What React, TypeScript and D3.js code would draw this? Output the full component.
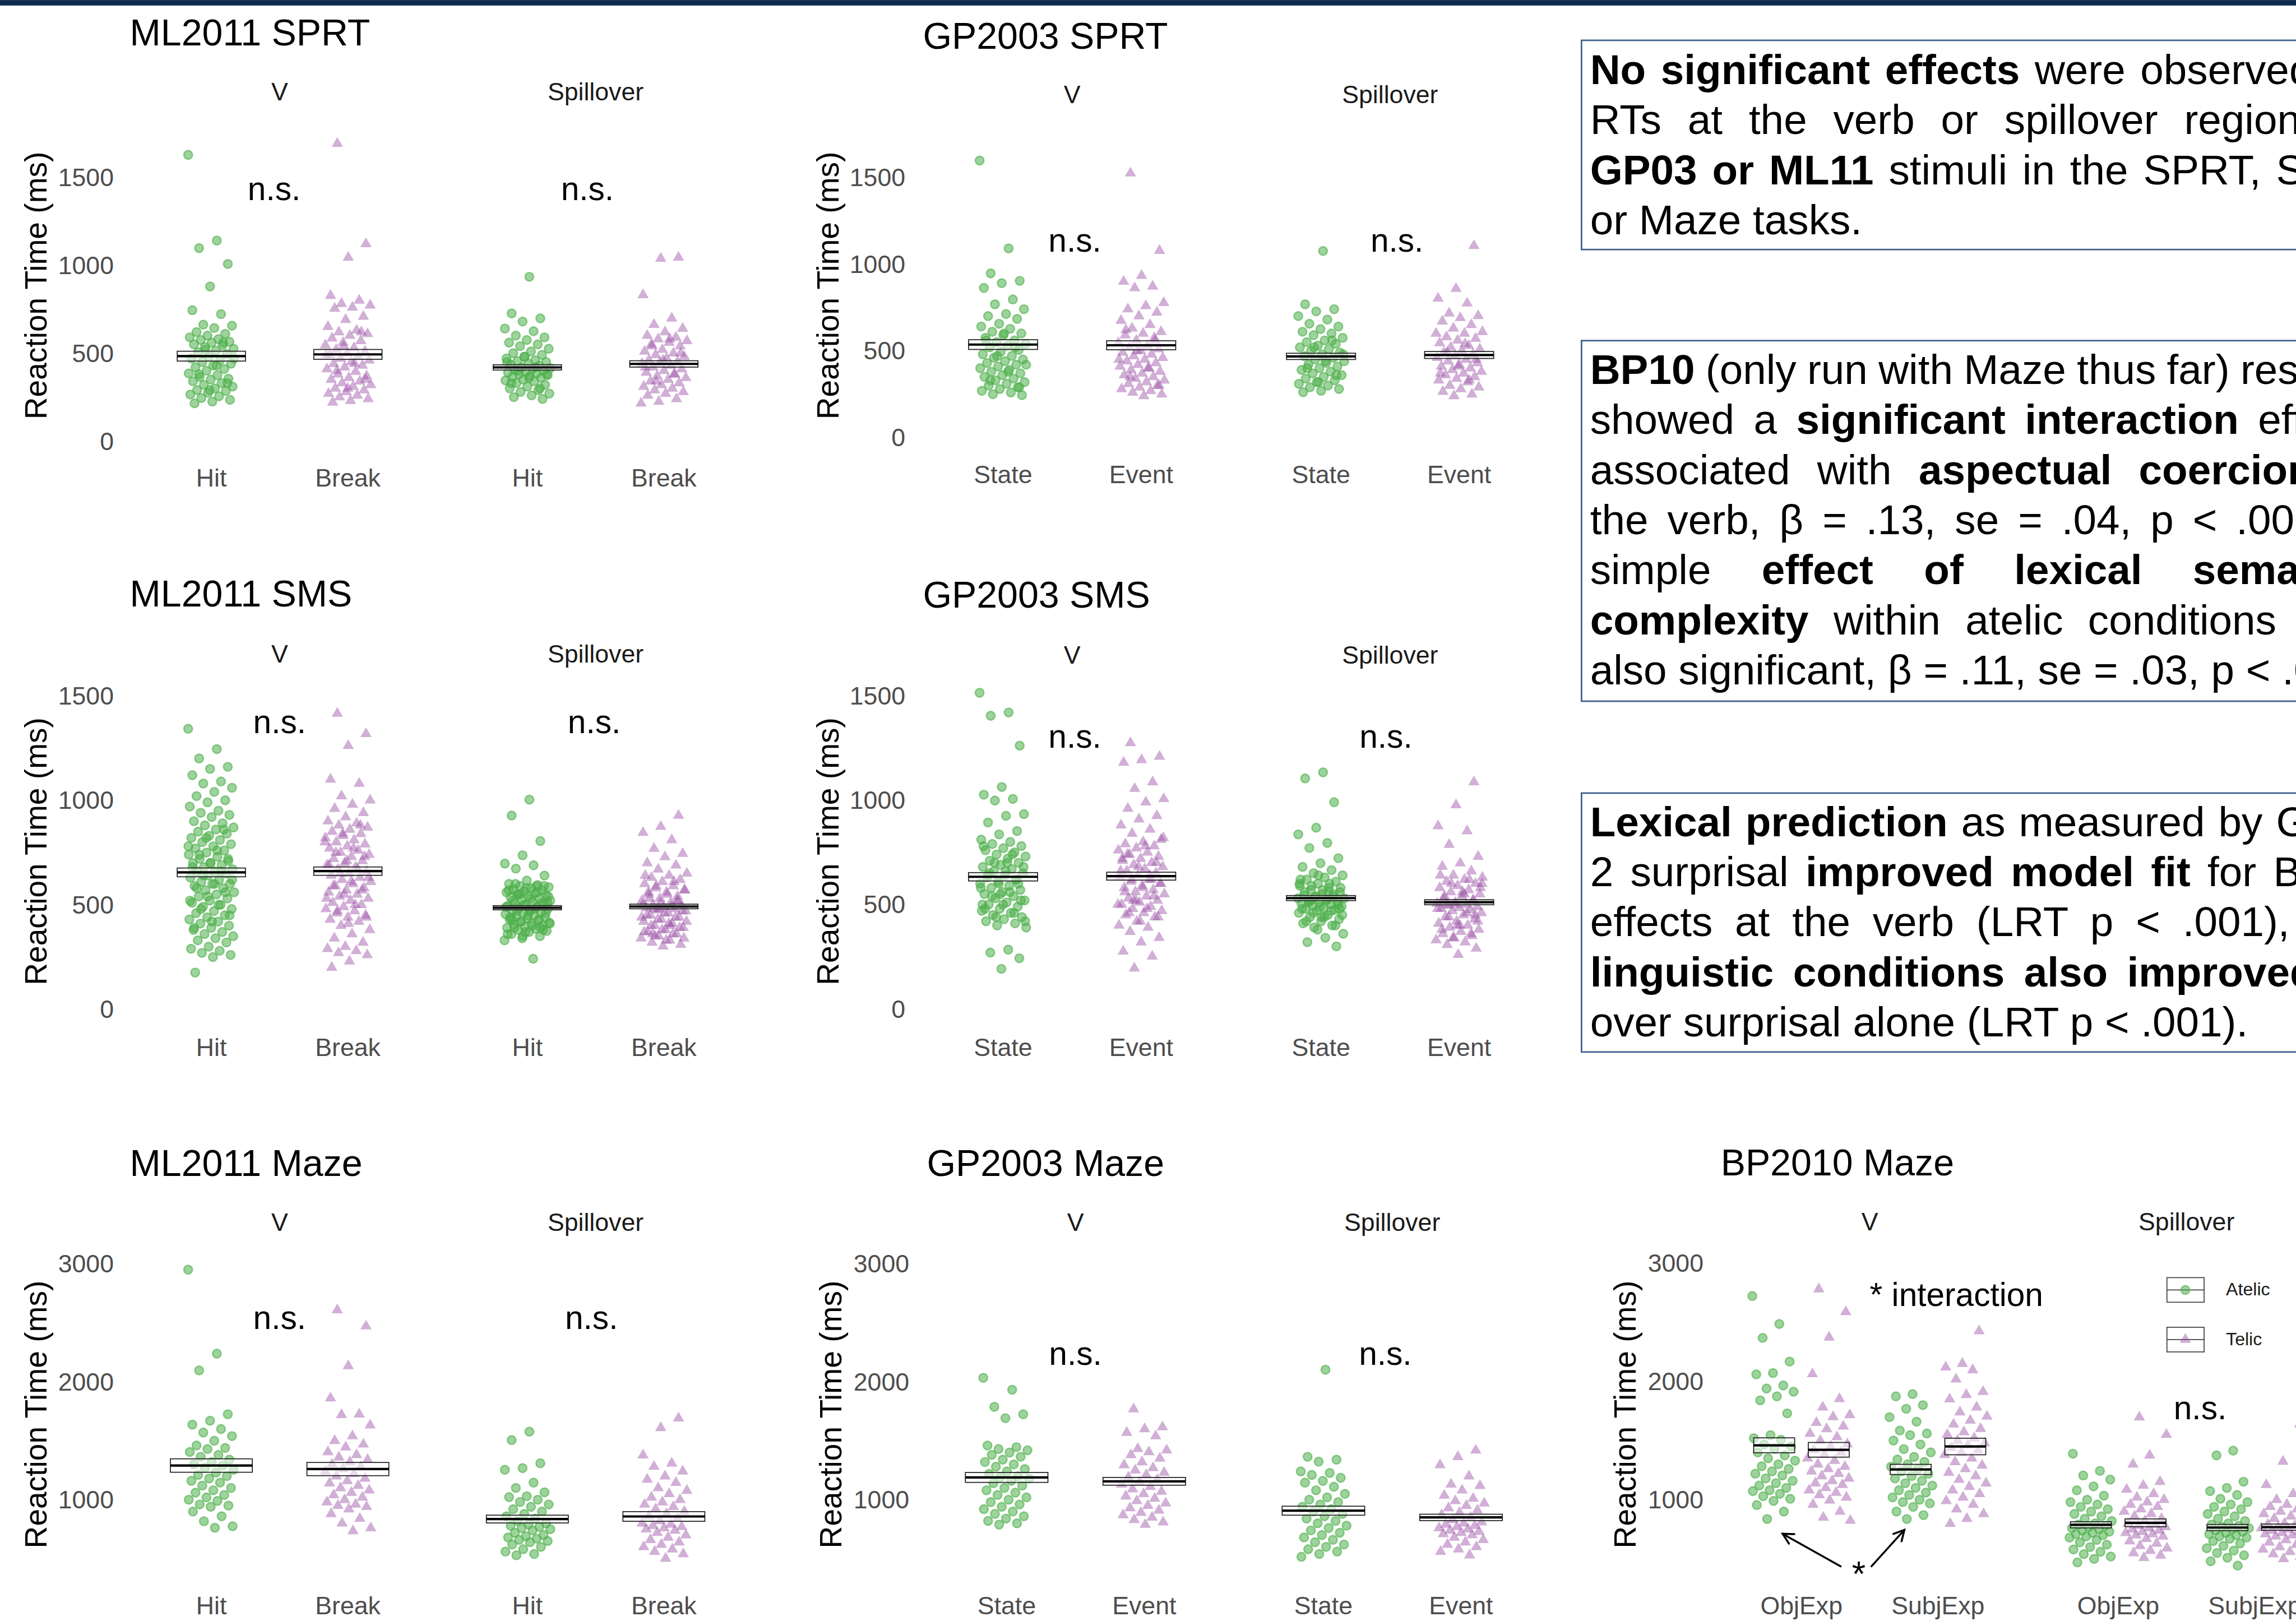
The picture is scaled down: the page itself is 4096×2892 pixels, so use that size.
import React, { useEffect, useRef } from "react";
import * as d3 from "d3";

// reference size; the svg viewBox scales it down to the 4096x2892 window
const W = 5871;
const H = 4145;
const FONT = "'Liberation Sans', Arial, Helvetica, sans-serif";
const GREEN = "#4DAF4A";
const PURPLE = "#984EA3";
const TICK = "#4D4D4D";

const facetNames = ["V", "Spillover"];
const mlConds = ["Hit", "Break"];
const gpConds = ["State", "Event"];
const bpConds = ["ObjExp", "SubjExp"];
const bpAspects = ["Atelic", "Telic"];
const rtTicks = [0, 500, 1000, 1500];
const mazeTicks = [1000, 2000, 3000];

// ---------- ML2011 SPRT (ms)
const mlSprtHitV = [1627, 1140, 1097, 1007, 879, 744, 722, 662, 656, 643, 620, 610, 600, 590, 580, 575, 565, 560, 550, 545, 535, 525, 515, 505, 495, 480, 470, 460, 450, 440, 430, 420, 410, 400, 385, 375, 365, 355, 350, 340, 330, 320, 310, 300, 290, 285, 275, 265, 255, 245, 235, 225, 215, 560, 520, 470, 430, 380, 330, 290];
const mlSprtBreakV = [1691, 1121, 1044, 827, 800, 781, 772, 760, 754, 708, 690, 650, 630, 620, 610, 600, 585, 570, 560, 545, 530, 520, 510, 500, 490, 480, 470, 460, 450, 440, 430, 420, 410, 395, 380, 370, 360, 350, 340, 330, 320, 310, 300, 290, 280, 270, 260, 250, 240, 230, 220, 620, 540, 490, 440, 400, 350, 300];
const mlSprtHitS = [934, 726, 698, 680, 640, 625, 600, 590, 575, 560, 550, 540, 525, 510, 500, 490, 480, 470, 460, 455, 450, 440, 435, 430, 420, 415, 410, 405, 400, 395, 390, 385, 380, 375, 370, 365, 360, 350, 345, 340, 330, 320, 310, 300, 290, 280, 270, 260, 250, 240, 480, 450, 420, 400, 380, 360, 330, 300];
const mlSprtBreakS = [1044, 1038, 831, 698, 662, 640, 620, 600, 590, 580, 570, 560, 550, 540, 520, 510, 500, 490, 480, 470, 460, 450, 445, 440, 430, 420, 410, 400, 390, 380, 370, 360, 350, 340, 330, 320, 310, 300, 290, 280, 270, 260, 240, 225, 215, 580, 540, 500, 460, 420, 380, 340];
const mlSprtMeans = [[483, 493], [419, 439]];
const mlSprtSE = [[28, 28], [15, 18]];

// ---------- GP2003 SPRT
const gpSprtStateV = [1596, 1090, 946, 903, 890, 862, 796, 768, 740, 712, 700, 684, 656, 640, 627, 610, 600, 590, 575, 560, 550, 540, 530, 520, 505, 495, 480, 470, 460, 450, 440, 430, 420, 410, 400, 390, 380, 370, 360, 350, 340, 330, 320, 310, 300, 290, 280, 270, 260, 250, 245, 600, 560, 520, 470, 420, 380, 330, 290];
const gpSprtEventV = [1523, 1077, 933, 899, 871, 862, 777, 759, 740, 721, 700, 674, 650, 630, 610, 600, 590, 575, 560, 545, 530, 520, 510, 500, 490, 480, 470, 460, 450, 440, 430, 420, 410, 400, 390, 380, 370, 360, 350, 340, 330, 320, 310, 300, 290, 280, 270, 260, 250, 240, 620, 560, 500, 450, 400, 350, 300];
const gpSprtStateS = [1075, 768, 740, 727, 700, 680, 656, 640, 625, 610, 600, 590, 575, 560, 550, 540, 530, 520, 510, 500, 490, 480, 470, 460, 450, 440, 430, 420, 410, 400, 390, 380, 370, 360, 350, 340, 330, 320, 310, 300, 290, 280, 270, 262, 560, 520, 480, 440, 400, 360, 320];
const gpSprtEventS = [1105, 858, 802, 774, 716, 702, 690, 670, 650, 630, 610, 600, 580, 570, 560, 545, 530, 520, 510, 500, 490, 480, 470, 460, 450, 440, 430, 420, 410, 400, 390, 380, 370, 360, 350, 340, 330, 320, 300, 290, 280, 265, 250, 240, 600, 540, 490, 450, 410, 370, 330];
const gpSprtMeans = [[536, 532], [468, 476]];
const gpSprtSE = [[28, 26], [18, 20]];

// ---------- ML2011 SMS
const mlSmsHitV = [1342, 1245, 1200, 1160, 1150, 1120, 1090, 1080, 1060, 1040, 1020, 1000, 990, 970, 950, 940, 930, 920, 900, 890, 880, 870, 860, 850, 840, 830, 820, 810, 800, 790, 780, 770, 760, 750, 740, 730, 720, 710, 700, 700, 690, 680, 670, 660, 660, 650, 640, 630, 620, 610, 600, 600, 590, 580, 570, 560, 550, 540, 530, 520, 510, 500, 490, 480, 470, 460, 450, 440, 430, 420, 410, 400, 390, 380, 370, 360, 350, 340, 330, 320, 300, 290, 280, 270, 260, 250, 176, 860, 820, 780, 760, 740, 720, 700, 680, 660, 640, 620, 600, 580, 560, 540, 520, 500, 480, 450, 420, 390];
const mlSmsBreakV = [1415, 1318, 1261, 1100, 1080, 1020, 1000, 980, 960, 940, 920, 900, 890, 880, 870, 860, 850, 840, 830, 820, 810, 800, 790, 780, 770, 760, 750, 740, 730, 720, 710, 700, 690, 680, 670, 660, 650, 640, 630, 620, 610, 600, 590, 580, 570, 560, 550, 540, 530, 520, 510, 500, 490, 480, 470, 460, 450, 440, 430, 420, 400, 380, 360, 340, 320, 300, 290, 280, 270, 260, 230, 200, 880, 840, 800, 770, 750, 730, 710, 690, 670, 650, 630, 610, 590, 570, 550, 530, 500, 470, 440, 410];
const mlSmsHitS = [1003, 927, 805, 737, 697, 689, 673, 640, 616, 600, 595, 590, 585, 580, 575, 570, 565, 560, 555, 550, 545, 540, 535, 530, 525, 520, 515, 510, 505, 500, 495, 490, 485, 480, 475, 470, 465, 460, 455, 450, 445, 440, 435, 430, 425, 420, 415, 410, 405, 400, 395, 390, 385, 380, 375, 370, 360, 350, 340, 330, 242, 600, 590, 580, 570, 560, 550, 540, 530, 520, 510, 500, 490, 480, 470, 460, 450, 440, 430, 420, 410, 400, 390, 380, 370, 360, 590, 550, 510, 470, 430, 390, 350];
const mlSmsBreakS = [927, 874, 845, 810, 769, 745, 729, 700, 689, 670, 650, 640, 630, 620, 610, 600, 590, 580, 570, 560, 550, 540, 530, 520, 510, 500, 495, 490, 485, 480, 475, 470, 460, 450, 440, 430, 420, 410, 400, 390, 380, 370, 360, 350, 340, 330, 320, 310, 302, 640, 610, 590, 570, 550, 530, 520, 510, 500, 490, 480, 470, 460, 450, 440, 430, 420, 410, 400, 390, 380, 370, 360, 350, 340, 330, 560, 520, 480, 440, 400, 360];
const mlSmsMeans = [[655, 661], [486, 492]];
const mlSmsSE = [[21, 20], [10, 11]];

// ---------- GP2003 SMS
const gpSmsStateV = [1514, 1420, 1404, 1261, 1063, 1026, 1006, 998, 933, 925, 893, 852, 836, 811, 800, 790, 780, 770, 760, 750, 740, 730, 720, 710, 700, 690, 680, 670, 660, 650, 640, 630, 620, 610, 600, 590, 580, 570, 560, 550, 540, 530, 520, 510, 500, 490, 480, 470, 460, 450, 440, 430, 420, 410, 400, 390, 284, 270, 243, 192, 780, 740, 700, 680, 660, 640, 620, 600, 580, 560, 540, 520, 500, 480, 460, 440, 420, 700, 650, 600, 550, 500];
const gpSmsEventV = [1274, 1209, 1193, 1180, 1087, 1055, 1006, 990, 960, 925, 909, 880, 860, 840, 811, 800, 790, 780, 770, 760, 750, 740, 730, 720, 710, 700, 690, 680, 670, 660, 650, 640, 630, 620, 610, 600, 590, 580, 570, 560, 550, 540, 530, 520, 510, 500, 490, 480, 470, 460, 450, 440, 420, 400, 390, 370, 341, 320, 276, 252, 195, 820, 780, 740, 700, 680, 660, 640, 620, 600, 580, 560, 540, 520, 500, 480, 460, 440, 420, 720, 620, 520];
const gpSmsStateS = [1133, 1104, 990, 868, 836, 795, 771, 722, 698, 680, 665, 650, 640, 630, 620, 610, 600, 590, 580, 570, 560, 550, 545, 540, 535, 530, 525, 520, 515, 510, 505, 500, 495, 490, 485, 480, 475, 470, 460, 450, 440, 430, 420, 410, 400, 390, 360, 341, 320, 300, 640, 620, 600, 590, 580, 570, 560, 550, 540, 530, 520, 510, 500, 490, 480, 470, 460, 450, 440, 420, 400, 380, 600, 560, 520, 480, 440];
const gpSmsEventS = [1087, 977, 876, 852, 787, 730, 698, 682, 660, 640, 630, 620, 610, 600, 590, 580, 570, 560, 550, 540, 530, 520, 510, 505, 500, 495, 490, 485, 480, 475, 470, 460, 450, 440, 430, 420, 410, 400, 390, 380, 370, 360, 350, 340, 330, 320, 308, 290, 260, 640, 620, 600, 580, 560, 540, 520, 500, 480, 460, 440, 420, 400, 380, 360, 340, 600, 550, 500, 450, 400];
const gpSmsMeans = [[633, 636], [531, 511]];
const gpSmsSE = [[20, 19], [12, 12]];

// ---------- ML2011 Maze
const mlMazeHitV = [2951, 2239, 2097, 1725, 1670, 1637, 1600, 1570, 1540, 1500, 1460, 1440, 1430, 1405, 1380, 1364, 1340, 1320, 1300, 1290, 1270, 1254, 1230, 1210, 1200, 1180, 1160, 1145, 1120, 1100, 1080, 1060, 1040, 1020, 1000, 990, 960, 950, 940, 900, 860, 817, 775, 762];
const mlMazeBreakV = [2609, 2472, 2135, 1862, 1725, 1720, 1632, 1540, 1500, 1470, 1446, 1405, 1380, 1360, 1340, 1320, 1300, 1280, 1260, 1240, 1220, 1200, 1180, 1160, 1140, 1120, 1100, 1080, 1060, 1040, 1020, 1000, 980, 960, 950, 940, 920, 880, 840, 800, 760, 735];
const mlMazeHitS = [1577, 1506, 1309, 1268, 1254, 1145, 1100, 1063, 1030, 1022, 1000, 981, 960, 940, 920, 900, 880, 860, 840, 820, 800, 790, 780, 770, 760, 750, 740, 720, 700, 690, 680, 670, 660, 650, 640, 620, 600, 580, 560, 540, 529];
const mlMazeBreakS = [1692, 1610, 1378, 1309, 1282, 1241, 1200, 1172, 1145, 1100, 1077, 1050, 1020, 1000, 980, 960, 940, 920, 900, 880, 860, 840, 820, 800, 790, 780, 770, 760, 750, 740, 720, 700, 680, 660, 640, 620, 600, 580, 560, 540, 502];
const mlMazeMeans = [[1290, 1260], [836, 858]];
const mlMazeSE = [[57, 56], [33, 41]];

// ---------- GP2003 Maze
const gpMazeStateV = [2034, 1933, 1788, 1725, 1692, 1460, 1446, 1430, 1419, 1400, 1380, 1364, 1340, 1320, 1300, 1280, 1260, 1240, 1220, 1200, 1190, 1180, 1160, 1140, 1120, 1100, 1080, 1060, 1040, 1020, 1000, 980, 960, 940, 920, 900, 880, 860, 840, 820, 800, 789];
const gpMazeEventV = [1769, 1616, 1600, 1569, 1540, 1432, 1420, 1405, 1380, 1350, 1320, 1295, 1270, 1250, 1230, 1210, 1190, 1170, 1150, 1130, 1110, 1090, 1070, 1050, 1030, 1010, 990, 970, 950, 930, 910, 890, 870, 850, 830, 810, 789];
const gpMazeStateS = [2103, 1364, 1340, 1323, 1240, 1227, 1210, 1186, 1160, 1145, 1110, 1080, 1050, 1020, 1000, 980, 960, 940, 920, 900, 880, 860, 840, 820, 800, 780, 760, 740, 720, 700, 680, 660, 640, 620, 600, 580, 560, 540, 516];
const gpMazeEventS = [1419, 1364, 1295, 1200, 1131, 1118, 1080, 1036, 1010, 990, 970, 950, 930, 910, 890, 870, 850, 830, 810, 800, 790, 780, 770, 760, 750, 740, 730, 720, 710, 700, 680, 660, 640, 620, 600, 580, 560, 529];
const gpMazeMeans = [[1189, 1156], [907, 850]];
const gpMazeSE = [[42, 33], [38, 27]];

// ---------- BP2010 Maze (atelic / telic within each condition)
const bpObjAtelicV = [2722, 2486, 2368, 2168, 2071, 2060, 1966, 1940, 1913, 1874, 1840, 1730, 1546, 1520, 1507, 1467, 1450, 1430, 1400, 1375, 1350, 1330, 1300, 1283, 1260, 1240, 1220, 1205, 1180, 1160, 1140, 1120, 1100, 1080, 1073, 1050, 1030, 1008, 990, 955, 900, 837];
const bpObjTelicV = [2780, 2588, 2373, 2063, 1853, 1782, 1717, 1700, 1651, 1620, 1598, 1559, 1530, 1500, 1470, 1450, 1420, 1400, 1380, 1350, 1330, 1300, 1280, 1260, 1240, 1220, 1200, 1180, 1160, 1140, 1126, 1100, 1080, 1060, 1040, 1020, 995, 960, 900, 850, 824];
const bpSubjAtelicV = [1893, 1874, 1800, 1769, 1698, 1660, 1585, 1560, 1546, 1500, 1467, 1428, 1400, 1362, 1340, 1320, 1300, 1280, 1260, 1240, 1220, 1200, 1180, 1160, 1140, 1120, 1100, 1080, 1060, 1040, 1020, 1000, 980, 969, 940, 900, 870, 837];
const bpSubjTelicV = [2426, 2150, 2120, 2097, 2019, 1913, 1887, 1850, 1782, 1740, 1704, 1670, 1638, 1600, 1572, 1550, 1520, 1500, 1480, 1460, 1440, 1420, 1400, 1380, 1350, 1320, 1290, 1260, 1230, 1200, 1170, 1140, 1110, 1080, 1050, 1020, 990, 960, 920, 880, 840, 798];
const bpObjAtelicS = [1389, 1244, 1205, 1170, 1113, 1080, 1034, 1000, 980, 960, 940, 920, 900, 880, 860, 840, 820, 800, 790, 780, 770, 760, 750, 740, 730, 720, 710, 700, 690, 680, 660, 640, 620, 600, 580, 560, 540, 520, 500, 470];
const bpObjTelicS = [1698, 1551, 1375, 1300, 1152, 1120, 1087, 1050, 1020, 1000, 980, 960, 940, 920, 900, 880, 860, 840, 820, 800, 790, 780, 770, 760, 750, 740, 730, 720, 710, 700, 690, 670, 650, 630, 610, 590, 570, 550, 530, 509];
const bpSubjAtelicS = [1415, 1375, 1152, 1100, 1073, 1040, 1008, 980, 960, 940, 920, 900, 880, 860, 840, 820, 800, 790, 780, 770, 760, 750, 740, 730, 720, 710, 700, 690, 680, 670, 650, 630, 610, 590, 570, 550, 530, 510, 480, 443];
const bpSubjTelicS = [1638, 1323, 1126, 1050, 1000, 980, 960, 940, 920, 900, 880, 860, 840, 820, 800, 790, 780, 770, 760, 750, 740, 730, 720, 710, 700, 690, 680, 660, 640, 620, 600, 580, 560, 540, 520, 500];
const bpMeans = [[[1460, 1422], [1256, 1450]], [[788, 805], [765, 768]]];
const bpSE = [[[63, 62], [43, 70]], [[26, 33], [26, 26]]];

type Group = { facet: number; cond: number; dodge: number; kind: number; values: number[]; mean: number; se: number };
type Note = { facet: number; x: number; y: number; text: string; anchor?: string };
type Arrow = { facet: number; x1: number; y1: number; x2: number; y2: number };
type PanelCfg = {
  title: string; titleX: number; titleY: number;
  conds: string[]; facetLeft: number[]; facetWidth: number;
  yDomain: number[]; yRange: number[]; ticks: number[]; tickX: number;
  yTitleX: number; yTitleY: number; facetY: number; xLabelY: number;
  boxW: number; jit: number; groups: Group[]; notes: Note[]; arrows?: Arrow[]; legend?: boolean;
};

function simpleGroups(vals: number[][][], means: number[][], ses: number[][]): Group[] {
  const out: Group[] = [];
  vals.forEach((fv, fi) =>
    fv.forEach((v, ci) => out.push({ facet: fi, cond: ci, dodge: 0, kind: ci, values: v, mean: means[fi][ci], se: ses[fi][ci] }))
  );
  return out;
}

function bpGroups(): Group[] {
  const vals = [
    [[bpObjAtelicV, bpObjTelicV], [bpSubjAtelicV, bpSubjTelicV]],
    [[bpObjAtelicS, bpObjTelicS], [bpSubjAtelicS, bpSubjTelicS]],
  ];
  const out: Group[] = [];
  vals.forEach((fv, fi) =>
    fv.forEach((cv, ci) =>
      cv.forEach((v, ai) =>
        out.push({ facet: fi, cond: ci, dodge: ai === 0 ? -0.2 : 0.2, kind: ai, values: v, mean: bpMeans[fi][ci][ai], se: bpSE[fi][ci][ai] })
      )
    )
  );
  return out;
}

const ns = (facet: number, x: number, y: number): Note => ({ facet, x, y, text: "n.s." });

const panels: PanelCfg[] = [
  {
    title: "ML2011 SPRT", titleX: 332, titleY: 116, conds: mlConds, facetLeft: [331, 1139], facetWidth: 768,
    yDomain: [0, 1500], yRange: [1128, 453], ticks: rtTicks, tickX: 291, yTitleX: 92, yTitleY: 730,
    facetY: 257, xLabelY: 1244, boxW: 0.5, jit: 0.17,
    groups: simpleGroups([[mlSprtHitV, mlSprtBreakV], [mlSprtHitS, mlSprtBreakS]], mlSprtMeans, mlSprtSE),
    notes: [ns(0, 1.46, 1369), ns(1, 1.44, 1369)],
  },
  {
    title: "GP2003 SPRT", titleX: 2360, titleY: 124, conds: gpConds, facetLeft: [2353, 3166], facetWidth: 777,
    yDomain: [0, 1500], yRange: [1119, 453], ticks: rtTicks, tickX: 2315, yTitleX: 2117, yTitleY: 730,
    facetY: 264, xLabelY: 1235, boxW: 0.5, jit: 0.17,
    groups: simpleGroups([[gpSprtStateV, gpSprtEventV], [gpSprtStateS, gpSprtEventS]], gpSprtMeans, gpSprtSE),
    notes: [ns(0, 1.52, 1072), ns(1, 1.55, 1072)],
  },
  {
    title: "ML2011 SMS", titleX: 332, titleY: 1551, conds: mlConds, facetLeft: [331, 1139], facetWidth: 768,
    yDomain: [0, 1500], yRange: [2581, 1779], ticks: rtTicks, tickX: 291, yTitleX: 92, yTitleY: 2177,
    facetY: 1694, xLabelY: 2700, boxW: 0.5, jit: 0.17,
    groups: simpleGroups([[mlSmsHitV, mlSmsBreakV], [mlSmsHitS, mlSmsBreakS]], mlSmsMeans, mlSmsSE),
    notes: [ns(0, 1.5, 1322), ns(1, 1.49, 1322)],
  },
  {
    title: "GP2003 SMS", titleX: 2360, titleY: 1553, conds: gpConds, facetLeft: [2353, 3166], facetWidth: 777,
    yDomain: [0, 1500], yRange: [2580, 1779], ticks: rtTicks, tickX: 2315, yTitleX: 2117, yTitleY: 2177,
    facetY: 1697, xLabelY: 2700, boxW: 0.5, jit: 0.17,
    groups: simpleGroups([[gpSmsStateV, gpSmsEventV], [gpSmsStateS, gpSmsEventS]], gpSmsMeans, gpSmsSE),
    notes: [ns(0, 1.52, 1251), ns(1, 1.47, 1251)],
  },
  {
    title: "ML2011 Maze", titleX: 332, titleY: 3007, conds: mlConds, facetLeft: [331, 1139], facetWidth: 768,
    yDomain: [1000, 3000], yRange: [3835, 3232], ticks: mazeTicks, tickX: 291, yTitleX: 92, yTitleY: 3617,
    facetY: 3148, xLabelY: 4128, boxW: 0.6, jit: 0.17,
    groups: simpleGroups([[mlMazeHitV, mlMazeBreakV], [mlMazeHitS, mlMazeBreakS]], mlMazeMeans, mlMazeSE),
    notes: [ns(0, 1.5, 2446), ns(1, 1.47, 2446)],
  },
  {
    title: "GP2003 Maze", titleX: 2370, titleY: 3007, conds: gpConds, facetLeft: [2363, 3173], facetWidth: 774,
    yDomain: [1000, 3000], yRange: [3835, 3232], ticks: mazeTicks, tickX: 2325, yTitleX: 2124, yTitleY: 3617,
    facetY: 3148, xLabelY: 4128, boxW: 0.6, jit: 0.17,
    groups: simpleGroups([[gpMazeStateV, gpMazeEventV], [gpMazeStateS, gpMazeEventS]], gpMazeMeans, gpMazeSE),
    notes: [ns(0, 1.5, 2144), ns(1, 1.45, 2144)],
  },
  {
    title: "BP2010 Maze", titleX: 4400, titleY: 3006, conds: bpConds, facetLeft: [4397, 5207], facetWidth: 768,
    yDomain: [1000, 3000], yRange: [3835, 3230], ticks: mazeTicks, tickX: 4356, yTitleX: 4155, yTitleY: 3617,
    facetY: 3146, xLabelY: 4128, boxW: 0.3, jit: 0.16,
    groups: bpGroups(),
    notes: [
      { facet: 0, x: 1.5, y: 2636, text: "* interaction", anchor: "start" },
      { facet: 0, x: 1.42, y: 275, text: "*" },
      ns(1, 1.6, 1682),
    ],
    arrows: [
      { facet: 0, x1: 1.287, y1: 437, x2: 0.862, y2: 712 },
      { facet: 0, x1: 1.513, y1: 437, x2: 1.754, y2: 745 },
    ],
    legend: true,
  },
];

// deterministic horizontal spread for the jittered points
const jitterAt = (i: number, g: number) => ((i * 0.6180339887 + g * 0.2718) % 1) - 0.5;

function Panel({ p }: { p: PanelCfg }) {
  const y = d3.scaleLinear().domain(p.yDomain).range(p.yRange);
  const xs = p.facetLeft.map((left) =>
    d3.scalePoint<string>().domain(p.conds).range([left, left + p.facetWidth]).padding(0.6)
  );
  const step = xs[0].step();
  const ux = (facet: number, u: number) => (xs[facet](p.conds[0]) as number) + (u - 1) * step;
  const tri = d3.symbol().type(d3.symbolTriangle).size(360)() as string;

  return (
    <g>
      <text x={p.titleX} y={p.titleY} fontSize={95} fill="#000">{p.title}</text>
      {facetNames.map((f, i) => (
        <text key={f} x={p.facetLeft[i] + p.facetWidth / 2} y={p.facetY} textAnchor="middle" fontSize={64} fill="#1A1A1A">{f}</text>
      ))}
      <text transform={`translate(${p.yTitleX},${p.yTitleY}) rotate(-90)`} textAnchor="middle" dominantBaseline="central" fontSize={79} fill="#000">
        Reaction Time (ms)
      </text>
      {p.ticks.map((t) => (
        <text key={t} x={p.tickX} y={y(t)} textAnchor="end" dominantBaseline="central" fontSize={64} fill={TICK}>{t}</text>
      ))}
      {xs.map((sx, fi) =>
        p.conds.map((c) => (
          <text key={fi + c} x={sx(c)} y={p.xLabelY} textAnchor="middle" fontSize={64} fill={TICK}>{c}</text>
        ))
      )}
      {p.groups.map((g, gi) => {
        const cx = ux(g.facet, g.cond + 1 + g.dodge);
        const col = g.kind === 0 ? GREEN : PURPLE;
        return (
          <g key={"pts" + gi}>
            {g.values.map((v, i) => {
              const px = cx + jitterAt(i, gi) * 2 * p.jit * step;
              return g.kind === 0 ? (
                <circle key={i} cx={px} cy={y(v)} r={11} fill={col} fillOpacity={0.55} stroke={col} strokeOpacity={0.6} strokeWidth={3.5} />
              ) : (
                <path key={i} d={tri} transform={`translate(${px},${y(v)})`} fill={col} fillOpacity={0.45} />
              );
            })}
          </g>
        );
      })}
      {p.groups.map((g, gi) => {
        const cx = ux(g.facet, g.cond + 1 + g.dodge);
        const half = (p.boxW * step) / 2;
        return (
          <g key={"box" + gi}>
            <rect x={cx - half} y={y(g.mean + g.se)} width={half * 2} height={y(g.mean - g.se) - y(g.mean + g.se)}
              fill="#fff" fillOpacity={0.55} stroke="#222" strokeWidth={2.5} />
            <line x1={cx - half} x2={cx + half} y1={y(g.mean)} y2={y(g.mean)} stroke="#000" strokeWidth={6} />
          </g>
        );
      })}
      {p.notes.map((n, i) => (
        <text key={"n" + i} x={ux(n.facet, n.x)} y={y(n.y)} textAnchor={n.anchor || "middle"} fontSize={n.text === "*" ? 90 : 84} fill="#000">
          {n.text}
        </text>
      ))}
      {(p.arrows || []).map((a, i) => {
        const x1 = ux(a.facet, a.x1), y1 = y(a.y1), x2 = ux(a.facet, a.x2), y2 = y(a.y2);
        const ang = Math.atan2(y2 - y1, x2 - x1);
        const head = 30, spread = (28 * Math.PI) / 180;
        const hx = (s: number) => x2 - head * Math.cos(ang + s);
        const hy = (s: number) => y2 - head * Math.sin(ang + s);
        return (
          <g key={"a" + i} stroke="#000" strokeWidth={5} fill="none" strokeLinecap="round">
            <line x1={x1} y1={y1} x2={x2} y2={y2} />
            <polyline points={`${hx(spread)},${hy(spread)} ${x2},${y2} ${hx(-spread)},${hy(-spread)}`} />
          </g>
        );
      })}
      {p.legend &&
        bpAspects.map((lab, i) => {
          const ky = 3267 + i * 127;
          const col = i === 0 ? GREEN : PURPLE;
          return (
            <g key={lab}>
              <rect x={5541} y={ky} width={95} height={63} fill="none" stroke="#444" strokeWidth={2.5} />
              <line x1={5541} x2={5636} y1={ky + 31.5} y2={ky + 31.5} stroke="#444" strokeWidth={2.5} />
              {i === 0 ? (
                <circle cx={5588} cy={ky + 31.5} r={11} fill={col} fillOpacity={0.55} stroke={col} strokeOpacity={0.6} strokeWidth={3.5} />
              ) : (
                <path d={tri} transform={`translate(5588,${ky + 31.5})`} fill={col} fillOpacity={0.45} />
              )}
              <text x={5692} y={ky + 46} fontSize={46} fill="#1A1A1A">{lab}</text>
            </g>
          );
        })}
    </g>
  );
}

// ---------- text boxes on the right
type Seg = [string, boolean];
type Line = { segs: Seg[]; anchor?: string; ax?: number };
type Box = { top: number; bottom: number; base: number; lines: Line[] };

const textBoxes: Box[] = [
  {
    top: 103, bottom: 638, base: 215,
    lines: [
      { segs: [["No significant effects", true], [" were observed for", false]], anchor: "observed", ax: 5473 },
      { segs: [["RTs at the verb or spillover regions for", false]], anchor: "regions", ax: 5585 },
      { segs: [["GP03 or ML11", true], [" stimuli in the SPRT, SMS,", false]], anchor: "SMS,", ax: 5820 },
      { segs: [["or Maze tasks.", false]] },
    ],
  },
  {
    top: 871, bottom: 1793, base: 982,
    lines: [
      { segs: [["BP10", true], [" (only run with Maze thus far) results", false]], anchor: "results", ax: 5729 },
      { segs: [["showed a ", false], ["significant interaction", true], [" effect", false]], anchor: "effect", ax: 5774 },
      { segs: [["associated with ", false], ["aspectual coercion", true], [" at", false]], anchor: "coercion", ax: 5469 },
      { segs: [["the verb, β = .13, se = .04, p < .001, and a", false]], anchor: ".001,", ax: 5718 },
      { segs: [["simple ", false], ["effect of lexical semantic", true]], anchor: "semantic", ax: 5607 },
      { segs: [["complexity", true], [" within atelic conditions was", false]], anchor: "conditions", ax: 5339 },
      { segs: [["also significant, β = .11, se = .03, p < .001.", false]] },
    ],
  },
  {
    top: 2028, bottom: 2690, base: 2138,
    lines: [
      { segs: [["Lexical prediction", true], [" as measured by GPT-", false]], anchor: "GPT-", ax: 5820 },
      { segs: [["2 surprisal ", false], ["improved model fit", true], [" for BP10", false]], anchor: "BP10", ax: 5813 },
      { segs: [["effects at the verb (LRT p < .001), and", false]], anchor: ".001),", ax: 5581 },
      { segs: [["linguistic conditions also improved", true], [" fit", false]], anchor: "improved", ax: 5439 },
      { segs: [["over surprisal alone (LRT p < .001).", false]] },
    ],
  },
];

function TextBoxes() {
  return (
    <g>
      {textBoxes.map((b, bi) => (
        <g key={bi}>
          <rect x={4044} y={b.top} width={2100} height={b.bottom - b.top} fill="none" stroke="#41628F" strokeWidth={4} />
          {b.lines.map((ln, li) => (
            <text key={li} className="bodyline" x={4066} y={b.base + li * 128} fontSize={107} fill="#000"
              data-anchor={ln.anchor} data-ax={ln.ax}>
              {ln.segs.map(([t, bold], si) => (
                <tspan key={si} fontWeight={bold ? 700 : 400}>{t}</tspan>
              ))}
            </text>
          ))}
        </g>
      ))}
    </g>
  );
}

export default function App() {
  const ref = useRef<SVGSVGElement>(null);

  // justify the box lines: spread the word gaps so the anchor word starts where it does in the slide
  useEffect(() => {
    if (!ref.current) return;
    d3.select(ref.current)
      .selectAll<SVGTextElement, unknown>("text.bodyline")
      .each(function () {
        const word = this.getAttribute("data-anchor");
        const ax = this.getAttribute("data-ax");
        if (!word || !ax) return;
        this.style.wordSpacing = "0px";
        const txt = this.textContent || "";
        const idx = txt.lastIndexOf(word);
        const spaces = (txt.slice(0, idx).match(/ /g) || []).length;
        if (idx < 0 || !spaces) return;
        const x0 = this.getStartPositionOfChar(idx).x;
        this.style.wordSpacing = `${(+ax - x0) / spaces}px`;
      });
  }, []);

  return (
    <svg ref={ref} width={4096} height={2892} viewBox={`0 0 ${W} ${H}`}
      style={{ position: "absolute", left: 0, top: 0, display: "block", background: "#fff" }}
      fontFamily={FONT}>
      <rect x={0} y={0} width={W} height={H} fill="#fff" />
      <rect x={0} y={0} width={W} height={14} fill="#0D2B4F" />
      {panels.map((p) => (
        <Panel key={p.title} p={p} />
      ))}
      <TextBoxes />
    </svg>
  );
}
